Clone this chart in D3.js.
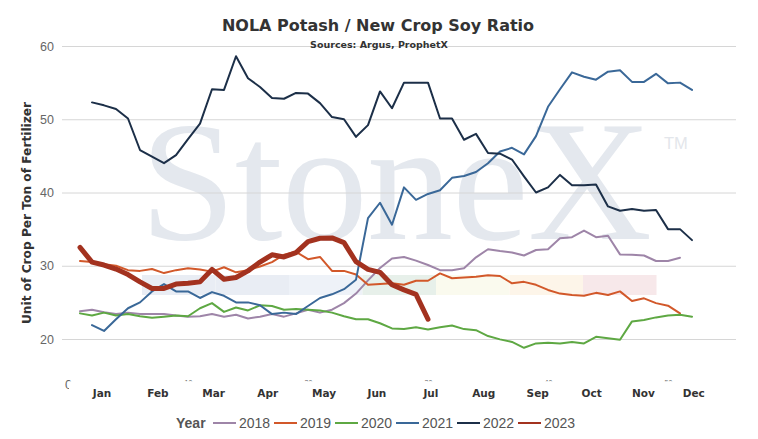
<!DOCTYPE html>
<html>
<head>
<meta charset="utf-8">
<script src="https://cdn.jsdelivr.net/npm/d3@7"></script>
<style>
  body { margin: 0; background: #fff; }
  svg { display: block; }
</style>
</head>
<body>
<div id="output"></div>
<script>
// weekly NOLA potash / new crop soy ratio, by year
const years = ["2018", "2019", "2020", "2021", "2022", "2023"];
const colors = ["#9e85a8", "#d2582a", "#5ea843", "#3a6898", "#1c2f48", "#a3321f"];
const firstWeek = [1, 1, 1, 2, 2, 1];

const v2018 = [23.8, 24.0, 23.65, 23.4, 23.6, 23.4, 23.4, 23.4, 23.2, 23.05,
  23.1, 23.4, 23.05, 23.3, 22.8, 23.05, 23.4, 23.05, 23.5, 24.0,
  23.6, 24.0, 24.9, 26.2, 28.0, 29.7, 31.0, 31.2, 30.7, 30.1,
  29.4, 29.4, 29.65, 31.15, 32.25, 32.0, 31.8, 31.4, 32.15, 32.25,
  33.75, 33.9, 34.8, 33.9, 34.1, 31.55, 31.5, 31.4, 30.65, 30.65, 31.1];
const v2019 = [30.65, 30.5, 30.2, 30.0, 29.4, 29.3, 29.55, 29.0, 29.4, 29.65,
  29.5, 29.2, 29.8, 29.1, 29.4, 29.9, 30.5, 31.5, 31.9, 30.9,
  31.2, 29.3, 29.3, 28.8, 27.4, 27.5, 27.6, 27.4, 27.95, 27.95,
  28.95, 28.3, 28.4, 28.5, 28.7, 28.6, 27.6, 27.8, 27.4, 26.7,
  26.2, 26.0, 25.9, 26.3, 26.0, 26.5, 25.2, 25.55, 24.9, 24.55, 23.5];
const v2020 = [23.5, 23.2, 23.6, 23.2, 23.4, 23.1, 22.9, 23.05, 23.2, 23.1,
  24.2, 24.9, 23.7, 24.3, 23.9, 24.6, 24.5, 24.0, 24.1, 24.0,
  23.9, 23.6, 23.1, 22.7, 22.7, 22.15, 21.45, 21.35, 21.6, 21.3,
  21.6, 21.85, 21.35, 21.2, 20.4, 19.95, 19.6, 18.8, 19.4, 19.5,
  19.4, 19.6, 19.4, 20.3, 20.1, 19.9, 22.4, 22.6, 22.95, 23.2, 23.3, 23.05];
const v2021 = [21.9, 21.1, 22.7, 24.2, 25.0, 26.5, 27.5, 26.5, 26.5,
  25.6, 26.4, 25.9, 25.0, 25.0, 24.6, 23.4, 23.6, 23.4, 24.5,
  25.6, 26.1, 26.8, 28.1, 36.5, 38.6, 35.6, 40.7, 39.0, 39.8,
  40.3, 42.0, 42.25, 42.8, 44.0, 45.6, 46.1, 45.2, 47.7, 51.7,
  54.1, 56.4, 55.8, 55.4, 56.5, 56.7, 55.1, 55.1, 56.2, 54.9, 55.0, 54.0];
const v2022 = [52.3, 51.9, 51.4, 50.1, 45.8, 44.9, 44.0, 45.1, 47.3,
  49.4, 54.1, 54.0, 58.6, 55.6, 54.4, 52.9, 52.8, 53.6, 53.5,
  52.2, 50.3, 50.0, 47.6, 49.2, 53.8, 51.5, 55.0, 55.0, 55.0,
  50.1, 50.1, 47.2, 48.0, 45.4, 45.3, 44.5, 42.2, 40.0, 40.7,
  42.4, 41.0, 41.0, 41.1, 38.1, 37.5, 37.75, 37.5, 37.6, 35.0, 35.0, 33.5];
const v2023 = [32.5, 30.5, 30.1, 29.55, 28.8, 27.8, 26.9, 26.9, 27.5, 27.6,
  27.8, 29.5, 28.15, 28.4, 29.3, 30.5, 31.5, 31.2, 31.8, 33.3,
  33.75, 33.8, 33.15, 30.55, 29.5, 29.1, 27.4, 26.7, 26.1, 22.7];
const values = [v2018, v2019, v2020, v2021, v2022, v2023];

const months = ["Jan", "Feb", "Mar", "Apr", "May", "Jun", "Jul", "Aug", "Sep", "Oct", "Nov", "Dec"];
const monthWeek = [2.8, 7.45, 12.1, 16.6, 21.3, 25.7, 30.2, 34.6, 39.1, 43.6, 47.9, 52.1];
const weekTicks = [0, 10, 20, 30, 40, 50];
const yTicks = [20, 30, 40, 50, 60];

const width = 758, height = 439;
const x = d3.scaleLinear().domain([0, 52]).range([68, 692]);
const y = d3.scaleLinear().domain([20, 60]).range([339, 46]);

const svg = d3.select("#output").append("svg")
  .attr("width", width)
  .attr("height", height)
  .attr("font-family", "'DejaVu Sans', sans-serif");

// watermark logo
svg.append("text")
  .attr("x", 140).attr("y", 239)
  .attr("font-family", "'Liberation Serif', serif")
  .attr("font-size", 172)
  .attr("textLength", 512)
  .attr("fill", "#e4e8ee")
  .text("StoneX");
svg.append("text")
  .attr("x", 664).attr("y", 149)
  .attr("font-family", "'Liberation Sans', sans-serif")
  .attr("font-size", 16.5)
  .attr("fill", "#e3e6eb")
  .text("TM");

const bandColors = ["#e9edf4", "#e9edf4", "#eef2f8", "#e7f0ea", "#fafaee", "#fdf5e9", "#f7e8ea"];
svg.append("g").selectAll("rect")
  .data(bandColors)
  .join("rect")
  .attr("x", (d, i) => 142 + i * 73.5)
  .attr("y", 275)
  .attr("width", 73.5)
  .attr("height", 20)
  .attr("fill", d => d);

// y axis + grid
const yAxis = svg.append("g")
  .attr("transform", "translate(62,0)")
  .call(d3.axisLeft(y).tickValues(yTicks).tickSize(-674).tickPadding(8));
yAxis.select(".domain").remove();
yAxis.selectAll("line").attr("stroke", "#d6d6d6");
yAxis.selectAll("text")
  .attr("font-family", "'Liberation Sans', sans-serif")
  .attr("font-size", 12.5)
  .attr("fill", "#666");

// clipped week axis (only slivers show)
const defs = svg.append("defs");
const clip = defs.append("clipPath").attr("id", "wkclip");
clip.append("rect").attr("x", 60).attr("y", 370).attr("width", 9).attr("height", 25);
clip.append("rect").attr("x", 69).attr("y", 370).attr("width", 680).attr("height", 11.3);
const wk = svg.append("g")
  .attr("clip-path", "url(#wkclip)")
  .append("g")
  .attr("transform", "translate(0,372)")
  .call(d3.axisBottom(x).tickValues(weekTicks).tickSize(0).tickPadding(8));
wk.select(".domain").remove();
wk.selectAll("text")
  .attr("font-family", "'Liberation Sans', sans-serif")
  .attr("font-size", d => (d === 0 ? 12.5 : 7))
  .attr("fill", "#666");

// month labels
const mAxis = svg.append("g")
  .attr("transform", "translate(0,386)")
  .call(d3.axisBottom(x).tickValues(monthWeek).tickFormat((d, i) => months[i]).tickSize(0).tickPadding(4));
mAxis.select(".domain").remove();
mAxis.selectAll("text")
  .attr("font-family", "'DejaVu Sans', sans-serif")
  .attr("font-weight", "bold")
  .attr("font-size", 10.5)
  .attr("fill", "#333");

// lines
const line = d3.line()
  .x(d => x(d.w))
  .y(d => y(d.v));

svg.append("g")
  .attr("fill", "none")
  .attr("stroke-linejoin", "round")
  .attr("stroke-linecap", "round")
  .selectAll("path")
  .data(years)
  .join("path")
  .attr("stroke", (d, i) => colors[i])
  .attr("stroke-width", (d, i) => (d === "2023" ? 5 : 2))
  .attr("d", (d, i) => line(values[i].map((v, j) => ({ w: firstWeek[i] + j, v: v }))));

// titles
svg.append("text")
  .attr("x", 378).attr("y", 31)
  .attr("text-anchor", "middle")
  .attr("font-weight", "bold")
  .attr("font-size", 16)
  .attr("fill", "#333")
  .text("NOLA Potash / New Crop Soy Ratio");
svg.append("text")
  .attr("x", 379).attr("y", 48)
  .attr("text-anchor", "middle")
  .attr("font-weight", "bold")
  .attr("font-size", 9.5)
  .attr("fill", "#333")
  .text("Sources: Argus, ProphetX");

svg.append("text")
  .attr("transform", "translate(31,213) rotate(-90)")
  .attr("text-anchor", "middle")
  .attr("font-weight", "bold")
  .attr("font-size", 12.2)
  .attr("fill", "#333")
  .text("Unit of Crop Per Ton of Fertilizer");

// legend
const legend = svg.append("g")
  .attr("font-family", "'Liberation Sans', sans-serif")
  .attr("font-size", 14);
legend.append("text")
  .attr("x", 176).attr("y", 428)
  .attr("font-weight", "bold")
  .attr("fill", "#555")
  .text("Year");
const item = legend.selectAll("g.item")
  .data(years)
  .join("g")
  .attr("class", "item")
  .attr("transform", (d, i) => `translate(${213 + i * 61},0)`);
item.append("line")
  .attr("x1", 0).attr("x2", 23)
  .attr("y1", 423).attr("y2", 423)
  .attr("stroke", (d, i) => colors[i])
  .attr("stroke-width", 2);
item.append("text")
  .attr("x", 26).attr("y", 428)
  .attr("fill", "#555")
  .text(d => d);
</script>
</body>
</html>
